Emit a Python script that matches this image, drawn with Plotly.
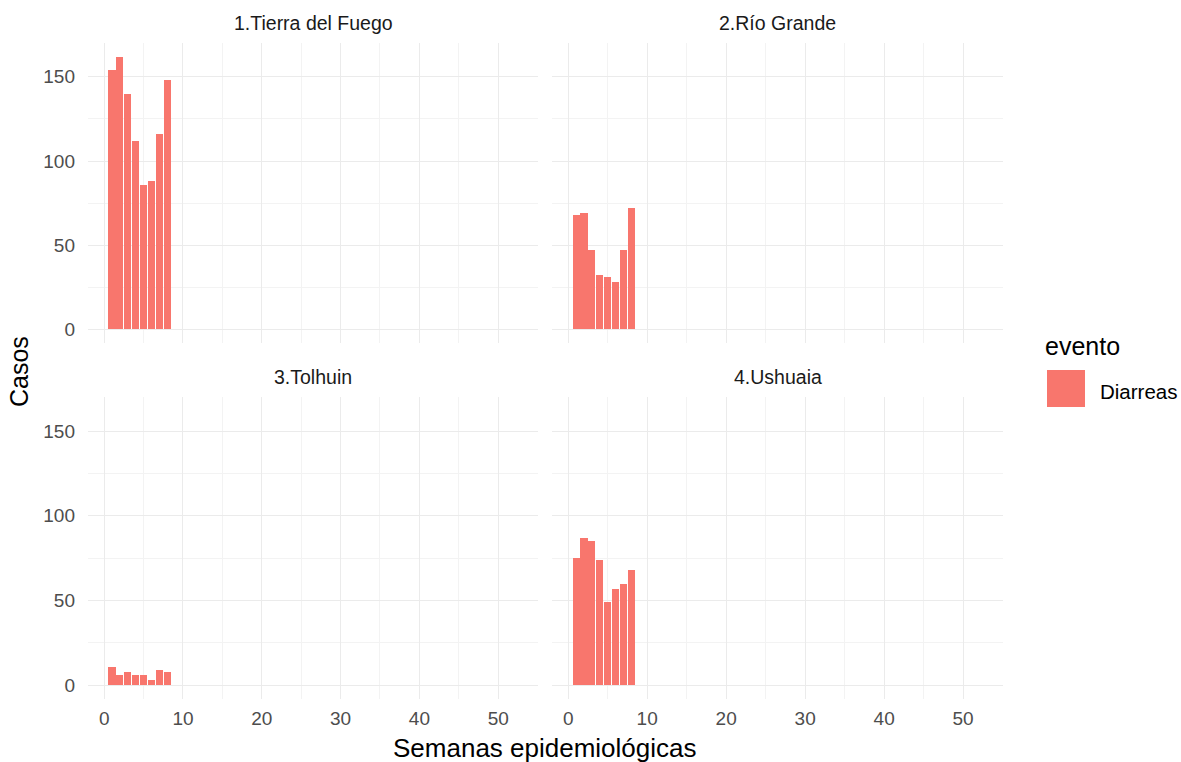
import plotly.graph_objects as go

semanas = [1, 2, 3, 4, 5, 6, 7, 8]
tierra_del_fuego = [154, 162, 140, 112, 86, 88, 116, 148]
rio_grande = [68, 69, 47, 32, 31, 28, 47, 72]
tolhuin = [11, 6, 8, 6, 6, 3, 9, 8]
ushuaia = [75, 87, 85, 74, 49, 57, 60, 68]

paneles = ["1.Tierra del Fuego", "2.Río Grande", "3.Tolhuin", "4.Ushuaia"]
valores = [tierra_del_fuego, rio_grande, tolhuin, ushuaia]
x_ticks = [0, 10, 20, 30, 40, 50]
y_ticks = [0, 50, 100, 150]
evento = "Diarreas"
color = "#F8766D"

W, H = 1181, 762
xdom = [[88 / W, 538 / W], [552 / W, 1003 / W]]
ydom = [[1 - 343 / H, 1 - 43 / H], [1 - 699 / H, 1 - 397 / H]]

fig = go.Figure()
font = "Liberation Sans, Arial, sans-serif"
grid = "#EBEBEB"
minor_grid = "#F3F3F3"

for i, (nombre, vals) in enumerate(zip(paneles, valores)):
    r, c = divmod(i, 2)
    n = i + 1
    xa = "x" if n == 1 else f"x{n}"
    ya = "y" if n == 1 else f"y{n}"
    fig.add_trace(go.Bar(x=semanas, y=vals, width=0.9, marker=dict(color=color, line=dict(width=0)),
                         name=evento, showlegend=False, xaxis=xa, yaxis=ya))
    xkey = "xaxis" if n == 1 else f"xaxis{n}"
    ykey = "yaxis" if n == 1 else f"yaxis{n}"
    fig.layout[xkey] = dict(domain=xdom[c], anchor=ya, range=[-2.05, 55.05], tickmode="array",
                            tickvals=x_ticks, showticklabels=(r == 1),
                            showgrid=True, gridcolor=grid, gridwidth=1.4, zeroline=False,
                            showline=False, ticks="", ticklabelstandoff=6,
                            tickfont=dict(family=font, size=19, color="#4D4D4D"),
                            minor=dict(tickvals=[5, 15, 25, 35, 45, 55], showgrid=True,
                                       gridcolor=minor_grid, gridwidth=0.9))
    fig.layout[ykey] = dict(domain=ydom[r], anchor=xa, range=[-8.1, 170.1], tickmode="array",
                            tickvals=y_ticks, showticklabels=(c == 0),
                            showgrid=True, gridcolor=grid, gridwidth=1.4, zeroline=False,
                            showline=False, ticks="", ticklabelstandoff=12,
                            tickfont=dict(family=font, size=19, color="#4D4D4D"),
                            minor=dict(tickvals=[25, 75, 125], showgrid=True,
                                       gridcolor=minor_grid, gridwidth=0.9))
    fig.add_annotation(text=nombre, xref="paper", yref="paper",
                       x=(xdom[c][0] + xdom[c][1]) / 2, y=ydom[r][1] + 20 / H,
                       showarrow=False, xanchor="center", yanchor="middle",
                       font=dict(family=font, size=19.5, color="#1A1A1A"))

fig.add_annotation(text="Semanas epidemiológicas", xref="paper", yref="paper",
                   x=545 / W, y=1 - 748 / H, showarrow=False,
                   xanchor="center", yanchor="middle", font=dict(family=font, size=26, color="#000000"))
fig.add_annotation(text="Casos", xref="paper", yref="paper", x=19 / W, y=1 - 371 / H,
                   showarrow=False, textangle=-90, xanchor="center", yanchor="middle",
                   font=dict(family=font, size=25, color="#000000"))

# legend drawn manually to mimic ggplot key
fig.add_annotation(text="evento", xref="paper", yref="paper", x=1043 / W, y=1 - 346 / H,
                   showarrow=False, xanchor="left", yanchor="middle",
                   font=dict(family=font, size=25, color="#000000"))
fig.add_shape(type="rect", xref="paper", yref="paper", x0=1047 / W, x1=1085 / W,
              y0=1 - 407 / H, y1=1 - 370 / H, fillcolor=color, line=dict(width=0))
fig.add_annotation(text=evento, xref="paper", yref="paper", x=1098 / W, y=1 - 391 / H,
                   showarrow=False, xanchor="left", yanchor="middle",
                   font=dict(family=font, size=20.5, color="#000000"))

fig.update_layout(width=W, height=H, margin=dict(l=0, r=0, t=0, b=0),
                  paper_bgcolor="white", plot_bgcolor="white", showlegend=False,
                  bargap=0)

fig.write_html("out.html", config={"displayModeBar": False},
               post_script="document.body.style.margin='0';document.body.style.overflow='hidden';")
